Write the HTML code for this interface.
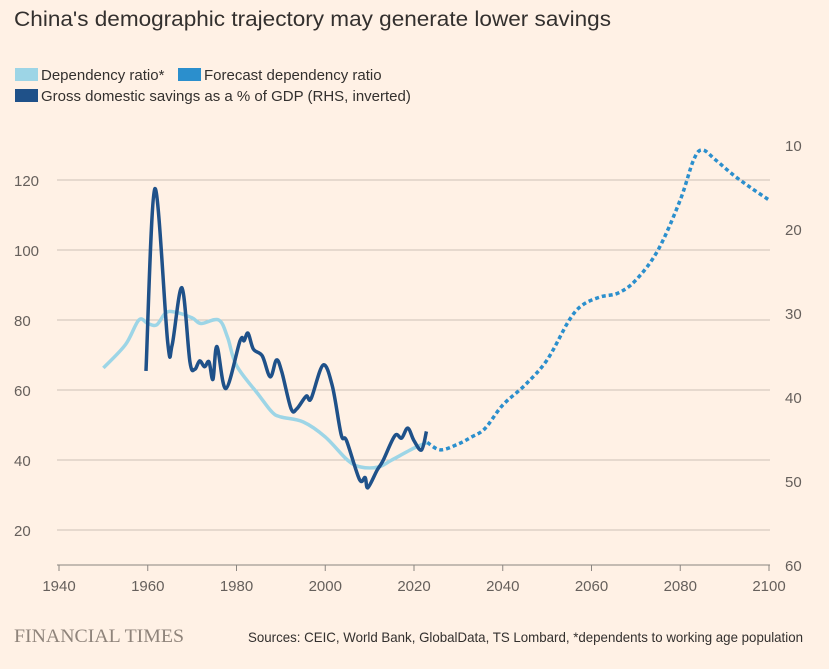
<!DOCTYPE html>
<html><head><meta charset="utf-8"><style>
body{margin:0;background:#FFF1E5;}
svg{display:block;font-family:"Liberation Sans Narrow","Liberation Sans",sans-serif;}
</style></head><body>
<svg id="c" width="829" height="669" viewBox="0 0 829 669">
<rect width="829" height="669" fill="#FFF1E5"/>
<text x="14" y="26" font-size="21" fill="#33302E" font-family="Liberation Sans, sans-serif" textLength="597" lengthAdjust="spacingAndGlyphs">China's demographic trajectory may generate lower savings</text>
<g>
<g><rect x="15" y="68" width="23" height="13" fill="#9dd5e6"/><text x="41" y="80" font-size="15" fill="#33302E">Dependency ratio*</text></g>
<g><rect x="178" y="68" width="23" height="13" fill="#2b8fcd"/><text x="204" y="80" font-size="15" fill="#33302E">Forecast dependency ratio</text></g>
<g><rect x="15" y="89" width="23" height="13" fill="#1f5189"/><text x="41" y="101" font-size="15" fill="#33302E">Gross domestic savings as a % of GDP (RHS, inverted)</text></g>
</g>
<g id="grid"></g><g id="axes"></g><g id="series"></g>
<text x="14" y="642" font-size="19" fill="#8f847b" font-family="Liberation Serif, serif" textLength="170" lengthAdjust="spacingAndGlyphs">FINANCIAL TIMES</text>
<text x="248" y="642" font-size="14" fill="#33302E" textLength="555" lengthAdjust="spacingAndGlyphs">Sources: CEIC, World Bank, GlobalData, TS Lombard, *dependents to working age population</text>
</svg>
<script>
const xTicks=[1940,1960,1980,2000,2020,2040,2060,2080,2100];
const yTicksLeft=[20,40,60,80,100,120];
const yTicksRight=[10,20,30,40,50,60];
const depYears=[1950,1955,1958,1960,1962,1964,1966,1970,1972,1976,1978,1980,1985,1988,1990,1995,2000,2005,2008,2012,2015,2020,2023];
const depVals=[66.3,73,80,79,78.6,82,82.3,80.6,79,80,75,67,58.6,53.7,52.3,50.9,46.6,40,38,38,40,43.4,45];
const fcYears=[2023,2026,2030,2033,2036,2040,2045,2050,2055,2058,2062,2066,2070,2075,2080,2083,2085,2088,2092,2096,2100];
const fcVals=[45,42.9,44.6,46.6,49,55.7,61.4,68.6,80,84.3,86.6,87.7,91.4,100,114.3,125.7,128.6,125.7,121.4,117.7,114.3];
const savYears=[1959.6,1961.6,1964.5,1965.5,1967.7,1969.5,1970.6,1971.7,1972.8,1973.8,1974.7,1975.6,1977.6,1980.8,1981.7,1982.6,1983.8,1985.8,1987.6,1989,1990.2,1992.3,1993.6,1995.7,1996.8,1999.5,2001.6,2003.6,2004.8,2007.7,2009,2009.6,2011.7,2013,2015.7,2017.2,2018.6,2020,2021.7,2022.8];
const savVals=[36.9,15.2,33.5,33.8,27,35.8,36.7,35.7,36.4,35.8,37.9,34,39,33.3,33.3,32.4,34.3,35.1,37.6,35.6,37,41.4,41.4,39.9,40.2,36.2,38.7,44.5,45.2,49.8,49.6,50.8,48.7,47.6,44.6,44.9,43.7,45.2,46.3,44.1];

const X=y=>59+(y-1940)*(710/160);
const YL=v=>565-(v-10)*3.5;
const YR=v=>145+(v-10)*8.4;
const NS="http://www.w3.org/2000/svg";
function mk(tag,attrs,parent){const e=document.createElementNS(NS,tag);for(const k in attrs)e.setAttribute(k,attrs[k]);parent.appendChild(e);return e;}
const grid=document.getElementById('grid'),axes=document.getElementById('axes'),ser=document.getElementById('series');
yTicksLeft.forEach(v=>{
 const l=mk('line',{x1:57,x2:770,y1:YL(v),y2:YL(v),stroke:'#ccc1b7','stroke-width':1},grid);
 
 
 const t=mk('text',{x:14,y:YL(v)+6,'font-size':15,fill:'#66605C'},axes);t.textContent=v;
 
 
});
yTicksRight.forEach(v=>{
 const t=mk('text',{x:785,y:YR(v)+6,'font-size':15,fill:'#66605C'},axes);t.textContent=v;
 
 
});
const ax=mk('line',{x1:57,x2:770,y1:565,y2:565,stroke:'#8a8580','stroke-width':1},axes);


xTicks.forEach(y=>{
 const tk=mk('line',{x1:X(y),x2:X(y),y1:565,y2:571,stroke:'#8a8580'},axes);
 
 
 const t=mk('text',{x:X(y),y:591,'font-size':15,fill:'#66605C','text-anchor':'middle'},axes);t.textContent=y;
 
 
});
function path(xs,vs,yf){
 const p=xs.map((x,i)=>[X(x),yf(vs[i])]);
 let d='M'+p[0][0]+','+p[0][1];
 for(let i=0;i<p.length-1;i++){
  const p0=p[i-1]||p[i],p1=p[i],p2=p[i+1],p3=p[i+2]||p2;
  const c1=[p1[0]+(p2[0]-p0[0])/6,p1[1]+(p2[1]-p0[1])/6];
  const c2=[p2[0]-(p3[0]-p1[0])/6,p2[1]-(p3[1]-p1[1])/6];
  d+=` C${c1[0]},${c1[1]} ${c2[0]},${c2[1]} ${p2[0]},${p2[1]}`;
 }
 return d;
}
const dep=mk('path',{d:path(depYears,depVals,YL),fill:'none',stroke:'#9dd5e6','stroke-width':3.5,'stroke-linejoin':'round'},ser);


const fc=mk('path',{d:path(fcYears,fcVals,YL),fill:'none',stroke:'#2b8fcd','stroke-width':3.5,'stroke-dasharray':'4 3'},ser);


const sv=mk('path',{d:path(savYears,savVals,YR),fill:'none',stroke:'#1f5189','stroke-width':3.5,'stroke-linejoin':'round'},ser);


</script>
</body></html>
